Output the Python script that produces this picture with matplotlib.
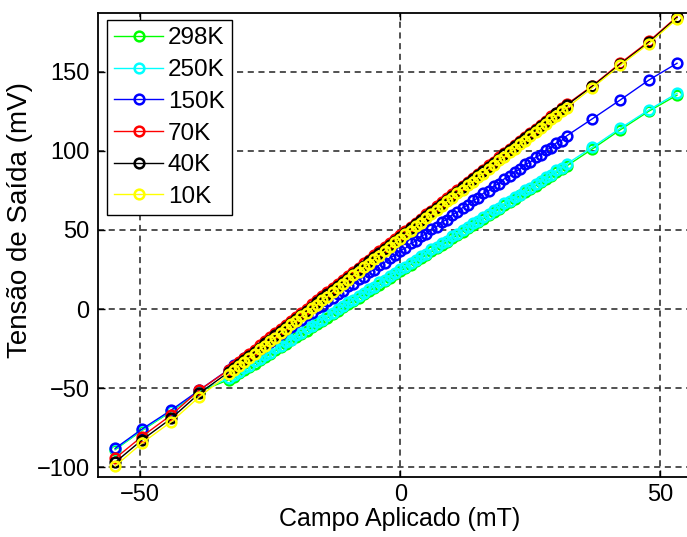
import matplotlib
matplotlib.use("Agg")
import matplotlib.pyplot as plt

plt.rcParams['font.family'] = ['Liberation Sans', 'DejaVu Sans']

# ---------------- data ----------------
labels = ["298K", "250K", "150K", "70K", "40K", "10K"]
colors = ["#00ff00", "#00ffff", "#0000ff", "#ff0000", "#000000", "#ffff00"]

field_low = [-54.8, -49.7, -44.0, -38.6]
field_dense = [-33, -32, -31, -30, -29, -28, -27, -26, -25, -24,
               -23, -22, -21, -20, -19, -18, -17, -16, -15, -14,
               -13, -12, -11, -10, -9, -8, -7, -6, -5, -4,
               -3, -2, -1, 0, 1, 2, 3, 4, 5, 6,
               7, 8, 9, 10, 11, 12, 13, 14, 15, 16,
               17, 18, 19, 20, 21, 22, 23, 24, 25, 26,
               27, 28, 29, 30, 31, 32]
field_high = [36.9, 42.3, 47.8, 53.2]

v298_low = [-89.0, -77.0, -64.8, -52.2]
v298_dense = [-44.8, -42.9, -40.6, -38.7, -36.5, -34.6, -32.4, -30.4, -28.2, -26.2,
              -24.1, -22.1, -19.9, -17.9, -15.7, -13.7, -11.5, -9.5, -7.4, -5.4,
              -3.2, -1.2, 1.0, 3.0, 5.2, 7.2, 9.3, 11.3, 13.5, 15.5,
              17.7, 19.7, 21.9, 23.9, 26.0, 28.0, 30.2, 32.2, 34.4, 36.4,
              38.5, 40.5, 42.7, 44.7, 46.9, 48.9, 51.0, 53.0, 55.2, 57.2,
              59.4, 61.4, 63.5, 65.5, 67.7, 69.7, 71.9, 73.9, 76.0, 78.0,
              80.2, 82.2, 84.4, 86.4, 88.5, 90.5]
v298_high = [101.2, 113.4, 125.2, 135.3]

v250_low = [-88.6, -76.6, -64.4, -51.8]
v250_dense = [-43.9, -41.5, -40.1, -37.4, -36.0, -33.2, -31.8, -29.0, -27.6, -24.9,
              -23.4, -20.7, -19.3, -16.5, -15.1, -12.3, -10.9, -8.2, -6.7, -4.0,
              -2.6, 0.2, 1.6, 4.4, 5.8, 8.5, 10.0, 12.7, 14.1, 16.9,
              18.3, 21.0, 22.5, 25.2, 26.6, 29.4, 30.8, 33.5, 35.0, 37.7,
              39.1, 41.9, 43.3, 46.0, 47.5, 50.2, 51.6, 54.4, 55.8, 58.5,
              60.0, 62.7, 64.1, 66.9, 68.3, 71.0, 72.4, 75.2, 76.6, 79.4,
              80.8, 83.5, 84.9, 87.7, 89.1, 91.8]
v250_high = [102.3, 114.4, 126.0, 136.5]

v150_low = [-88.2, -76.1, -63.9, -51.3]
v150_dense = [-38.3, -35.6, -34.2, -31.1, -29.6, -26.6, -25.1, -22.0, -20.6, -17.5,
              -16.0, -12.9, -11.5, -8.4, -6.9, -3.9, -2.4, 0.7, 2.1, 5.2,
              6.7, 9.8, 11.2, 14.3, 15.8, 18.8, 20.3, 23.4, 24.8, 27.9,
              29.4, 32.5, 33.9, 37.0, 38.5, 41.5, 43.0, 46.1, 47.5, 50.6,
              52.1, 55.2, 56.6, 59.7, 61.2, 64.2, 65.7, 68.8, 70.2, 73.3,
              74.8, 77.9, 79.3, 82.4, 83.9, 86.9, 88.4, 91.5, 92.9, 96.0,
              97.5, 100.6, 102.0, 105.1, 106.6, 109.6]
v150_high = [120.3, 132.3, 144.9, 155.5]

v70_low = [-94.5, -80.8, -67.0, -51.3]
v70_dense = [-38.6, -36.0, -33.4, -31.0, -28.2, -25.8, -23.0, -20.5, -17.9, -15.4,
             -12.6, -10.2, -7.5, -5.0, -2.3, 0.2, 2.9, 5.4, 8.1, 10.5,
             13.3, 15.7, 18.4, 20.9, 23.6, 26.1, 28.8, 31.2, 34.0, 36.4,
             39.2, 41.6, 44.3, 46.8, 49.5, 52.0, 54.7, 57.1, 59.9, 62.3,
             65.0, 67.5, 70.2, 72.7, 75.4, 77.8, 80.6, 83.0, 85.7, 88.2,
             90.9, 93.3, 96.1, 98.5, 101.2, 103.7, 106.4, 108.8, 111.6, 114.0,
             116.7, 119.2, 121.9, 124.3, 127.1, 129.5]
v70_high = [141.2, 155.6, 169.4, 185.0]

v40_low = [-97.0, -83.0, -69.2, -53.3]
v40_dense = [-40.0, -37.5, -34.9, -32.2, -29.7, -27.0, -24.5, -21.8, -19.3, -16.6,
             -14.1, -11.4, -8.9, -6.2, -3.7, -1.0, 1.5, 4.2, 6.7, 9.4,
             11.9, 14.6, 17.1, 19.8, 22.3, 25.0, 27.5, 30.2, 32.7, 35.4,
             37.9, 40.6, 43.1, 45.8, 48.3, 51.0, 53.5, 56.2, 58.7, 61.4,
             63.9, 66.6, 69.1, 71.8, 74.3, 77.0, 79.5, 82.2, 84.7, 87.4,
             89.9, 92.6, 95.1, 97.8, 100.3, 103.0, 105.5, 108.2, 110.7, 113.4,
             115.9, 118.6, 121.1, 123.8, 126.3, 129.0]
v40_high = [140.8, 155.0, 168.8, 184.5]

v10_low = [-99.4, -85.0, -71.3, -55.5]
v10_dense = [-41.3, -38.9, -35.8, -33.6, -30.7, -28.5, -25.4, -23.3, -20.2, -18.1,
             -15.0, -12.9, -9.8, -7.7, -4.6, -2.5, 0.6, 2.7, 5.8, 7.9,
             11.0, 13.0, 16.1, 18.2, 21.3, 23.4, 26.5, 28.6, 31.7, 33.8,
             36.9, 39.0, 42.1, 44.2, 47.3, 49.4, 52.5, 54.6, 57.7, 59.8,
             62.9, 65.0, 68.1, 70.2, 73.3, 75.4, 78.4, 80.5, 83.6, 85.7,
             88.8, 90.9, 94.0, 96.1, 99.2, 101.3, 104.4, 106.5, 109.6, 111.7,
             114.8, 116.9, 120.0, 122.1, 125.2, 127.3]
v10_high = [139.9, 154.2, 168.0, 183.6]

yticks = [-100, -50, 0, 50, 100, 150]
xticks = [-50, 0, 50]

series = [
    (v298_low, v298_dense, v298_high),
    (v250_low, v250_dense, v250_high),
    (v150_low, v150_dense, v150_high),
    (v70_low, v70_dense, v70_high),
    (v40_low, v40_dense, v40_high),
    (v10_low, v10_dense, v10_high),
]

# ---------------- figure ----------------
W, H = 687, 537
fig = plt.figure(figsize=(W / 100, H / 100), dpi=100)
ax = fig.add_axes([98 / W, 60 / H, 604 / W, 464 / H])

field = field_low + field_dense + field_high
for lab, col, (lo, de, hi) in zip(labels, colors, series):
    ax.plot(field, lo + de + hi, '-', color=col, lw=1.0, marker='o',
            markersize=7, mfc='none', mec=col, mew=1.8, label=lab)

ax.set_xlim(-58.1, 58.0)
ax.set_ylim(-106.3, 187.3)
ax.set_xticks(xticks)
ax.set_yticks(yticks)
ax.grid(True, color='#222222', linestyle=(0, (4, 3)), linewidth=1.1)
ax.tick_params(direction='in', length=5, width=1, top=True, right=True,
               labelsize=17, pad=6, colors='black')
ax.tick_params(axis='x', pad=5)
for s in ax.spines.values():
    s.set_linewidth(1.3)

ax.set_xlabel("Campo Aplicado (mT)", fontsize=18, labelpad=1)
ax.set_ylabel("Tensão de Saída (mV)", fontsize=20)
ax.yaxis.set_label_coords(-0.108, 0.554)

leg = ax.legend(loc='upper left', bbox_to_anchor=(9 / 604, 1 - 7 / 464),
                numpoints=1, fontsize=17.5, frameon=True, fancybox=False,
                handlelength=2.0, handletextpad=0.2, labelspacing=0.4,
                borderpad=0.3, borderaxespad=0)
leg.get_frame().set_edgecolor('black')
leg.get_frame().set_linewidth(1.0)
leg.get_frame().set_alpha(1)

fig.savefig("out.png", dpi=100)
